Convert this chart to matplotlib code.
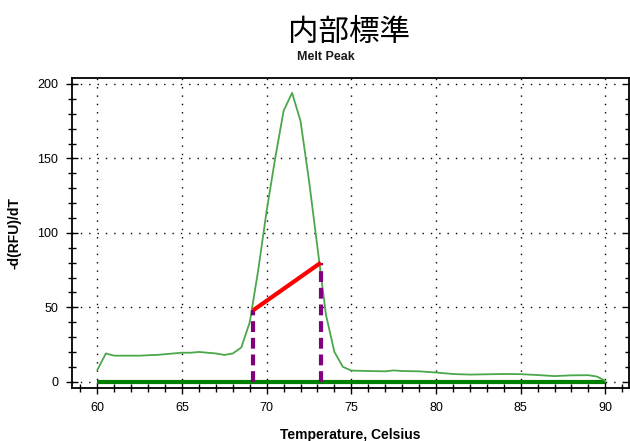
import matplotlib.pyplot as plt
from matplotlib.ticker import MultipleLocator

plt.rcParams['font.family'] = ['Liberation Sans', 'DejaVu Sans']

# melt curve, -d(RFU)/dT against temperature
temp = [60, 60.5, 61, 61.5, 62, 62.5, 63, 63.5, 64, 64.5, 65, 65.5, 66, 66.5,
        67, 67.5, 68, 68.5, 69, 69.5, 70, 70.5, 71, 71.5, 72, 72.5, 73, 73.5,
        74, 74.5, 75, 76, 77, 77.5, 78, 79, 80, 81, 82, 83, 84, 85, 86, 87,
        88, 89, 89.5, 90]
drfu = [8, 19, 17.5, 17.5, 17.5, 17.5, 17.8, 18, 18.5, 19, 19.5, 19.5, 20, 19.5,
        19, 18, 19, 23, 40, 75, 115, 150, 182, 194, 175, 135, 90, 45,
        20, 10, 7.5, 7.2, 7, 7.6, 7.2, 7, 6.2, 5.2, 4.8, 5, 5.2, 5.1, 4.5, 3.8,
        4.3, 4.4, 3.5, 0.7]

# baseline and peak-width markers
base_x = [60, 90]
base_y = [0, 0]
left_x, left_y = 69.2, 48
right_x, right_y = 73.2, 80

fig = plt.figure(figsize=(6.3, 4.41), dpi=100)
ax = fig.add_axes([72 / 630, 1 - 388 / 441, 557 / 630, 310 / 441])

ax.plot(base_x, base_y, color='#008000', lw=3, solid_capstyle='butt', zorder=3)
ax.plot(temp, drfu, color='#4aa84a', lw=1.3, zorder=4)
ax.plot([left_x, left_x], [0, left_y], color='#800080', lw=3,
        linestyle=(0, (2.6, 1.4)), zorder=5)
ax.plot([right_x, right_x], [0, right_y], color='#800080', lw=3,
        linestyle=(0, (2.6, 1.4)), zorder=5)
ax.plot([left_x, right_x], [left_y, right_y], color='#ff0000', lw=3,
        solid_capstyle='butt', zorder=6)

ax.set_xlim(58.5, 91.4)
ax.set_ylim(-4.2, 204)
ax.xaxis.set_major_locator(MultipleLocator(5))
ax.xaxis.set_minor_locator(MultipleLocator(1))
ax.yaxis.set_major_locator(MultipleLocator(50))
ax.yaxis.set_minor_locator(MultipleLocator(10))
ax.tick_params(which='major', direction='inout', length=8, width=1,
               labelsize=9, colors='black', pad=6)
ax.tick_params(which='minor', direction='inout', length=6, width=1)
ax.tick_params(axis='y', which='both', right=True)
ax.grid(which='major', color='black', linestyle=(0, (1, 5)), lw=1)
for sp in ax.spines.values():
    sp.set_linewidth(1.3)

ax.set_xlabel('Temperature, Celsius', fontsize=10, fontweight='bold', labelpad=10)
ax.set_ylabel('-d(RFU)/dT', fontsize=10, fontweight='bold')
ax.yaxis.set_label_coords(-0.09, 0.5)

fig.text(349 / 630, 1 - 32 / 441, '内部標準', fontsize=22, ha='center', va='center',
         family=['Noto Sans CJK JP', 'DejaVu Sans'])
fig.text(326 / 630, 1 - 57 / 441, 'Melt Peak', fontsize=9, fontweight='bold',
         ha='center', va='center', color='#1a1a1a')

fig.savefig('out.png', dpi=100)
